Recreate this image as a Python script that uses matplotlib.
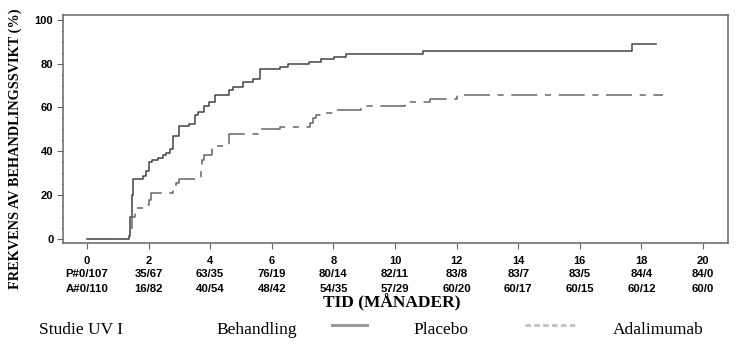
import matplotlib.pyplot as plt
from matplotlib.lines import Line2D
from matplotlib.transforms import blended_transform_factory

# cumulative incidence (months, %)
placebo_t = [0, 1.36, 1.40, 1.45, 1.50, 1.83, 1.93, 2.0, 2.1, 2.3, 2.45, 2.55, 2.7,
             2.8, 2.97, 3.3, 3.5, 3.6, 3.8, 3.95, 4.15, 4.6, 4.75, 5.05, 5.39, 5.6,
             6.27, 6.53, 7.2, 7.6, 8.02, 8.42, 10.92, 17.68, 18.46]
placebo_v = [0, 1, 10, 20, 27.1, 28.8, 31, 35, 36, 37, 38.3, 39, 41,
             47, 51.5, 52.5, 56.5, 58, 60.5, 62.5, 65.5, 68, 69.5, 71.8, 72.9, 77.4,
             78.3, 79.9, 80.9, 82, 83.2, 84.6, 86.0, 89.0, 89.0]

adalimumab_t = [0, 1.40, 1.45, 1.56, 1.85, 2.0, 2.07, 2.8, 2.9, 3.0, 3.7, 3.72, 3.8,
                4.05, 4.2, 4.6, 5.6, 6.27, 7.24, 7.32, 7.42, 7.7, 8.05, 8.9, 10.33,
                11.14, 12.02, 18.71]
adalimumab_v = [0, 5, 10, 13.9, 15.4, 17.7, 20.7, 22.3, 25.3, 27.1, 33, 36, 38.3,
                41.3, 42.5, 47.7, 50, 51.2, 52.7, 55, 56.5, 57.6, 58.8, 60.5, 62.6,
                63.9, 65.5, 65.5]

# numbers at risk table
risk_months = [0, 2, 4, 6, 8, 10, 12, 14, 16, 18, 20]
risk_placebo = ["P#0/107", "35/67", "63/35", "76/19", "80/14", "82/11", "83/8",
                "83/7", "83/5", "84/4", "84/0"]
risk_adalimumab = ["A#0/110", "16/82", "40/54", "48/42", "54/35", "57/29", "60/20",
                   "60/17", "60/15", "60/12", "60/0"]

sans = "Liberation Sans"
serif = "Liberation Serif"

fig = plt.figure(figsize=(7.37, 3.53), dpi=100)
ax = fig.add_axes([0.0855, 0.3116, 0.9023, 0.6459])

ax.step(placebo_t, placebo_v, where="post", color="#444444", lw=1.1)
ax.step(adalimumab_t, adalimumab_v, where="post", color="#666666", lw=1.1,
        dashes=(17, 5, 4, 5))

ax.set_xlim(-0.78, 20.81)
ax.set_ylim(-1.98, 102.3)
ax.set_xticks(risk_months)
ax.set_yticks([0, 20, 40, 60, 80, 100])
ax.set_yticks(range(0, 101, 5), minor=True)
ax.tick_params(axis="x", length=4, width=0.8, color="#666666", pad=5)
ax.tick_params(axis="y", length=4, width=0.8, color="#666666", pad=3)
ax.tick_params(axis="y", which="minor", length=1.5, width=0.6, color="#888888")
for lab in ax.get_xticklabels() + ax.get_yticklabels():
    lab.set_fontfamily(sans)
    lab.set_fontweight("bold")
    lab.set_fontsize(8)
for s in ax.spines.values():
    s.set_color("#666666")
    s.set_linewidth(1.1)

tr = blended_transform_factory(ax.transData, fig.transFigure)
for m, p, a in zip(risk_months, risk_placebo, risk_adalimumab):
    ax.text(m, 0.2224, p, transform=tr, ha="center", va="center",
            fontfamily=sans, fontweight="bold", fontsize=8.2)
    ax.text(m, 0.1813, a, transform=tr, ha="center", va="center",
            fontfamily=sans, fontweight="bold", fontsize=8.2)

fig.text(392 / 737, 0.1416, "TID (MÅNADER)", ha="center", va="center",
         fontfamily=serif, fontweight="bold", fontsize=12.5)
fig.text(15 / 737, 0.58, "FREKVENS AV BEHANDLINGSSVIKT (%)", rotation=90,
         ha="center", va="center", fontfamily=serif, fontweight="bold", fontsize=10.3)

# legend row
ly = 1 - 330 / 353
fig.text(39 / 737, ly, "Studie UV I", ha="left", va="center", fontfamily=serif, fontsize=12.5)
fig.text(216 / 737, ly, "Behandling", ha="left", va="center", fontfamily=serif, fontsize=12.5)
fig.text(413 / 737, ly, "Placebo", ha="left", va="center", fontfamily=serif, fontsize=12.5)
fig.text(613 / 737, ly, "Adalimumab", ha="left", va="center", fontfamily=serif, fontsize=12.5)
sy = 1 - 325 / 353
fig.add_artist(Line2D([332 / 737, 367 / 737], [sy, sy], color="#9a9a9a", lw=2.2,
                      transform=fig.transFigure))
fig.add_artist(Line2D([525 / 737, 578 / 737], [sy, sy], color="#c4c4c4", lw=2.2,
                      dashes=(1.8, 1.1), transform=fig.transFigure))

fig.savefig("out.png", dpi=100)
